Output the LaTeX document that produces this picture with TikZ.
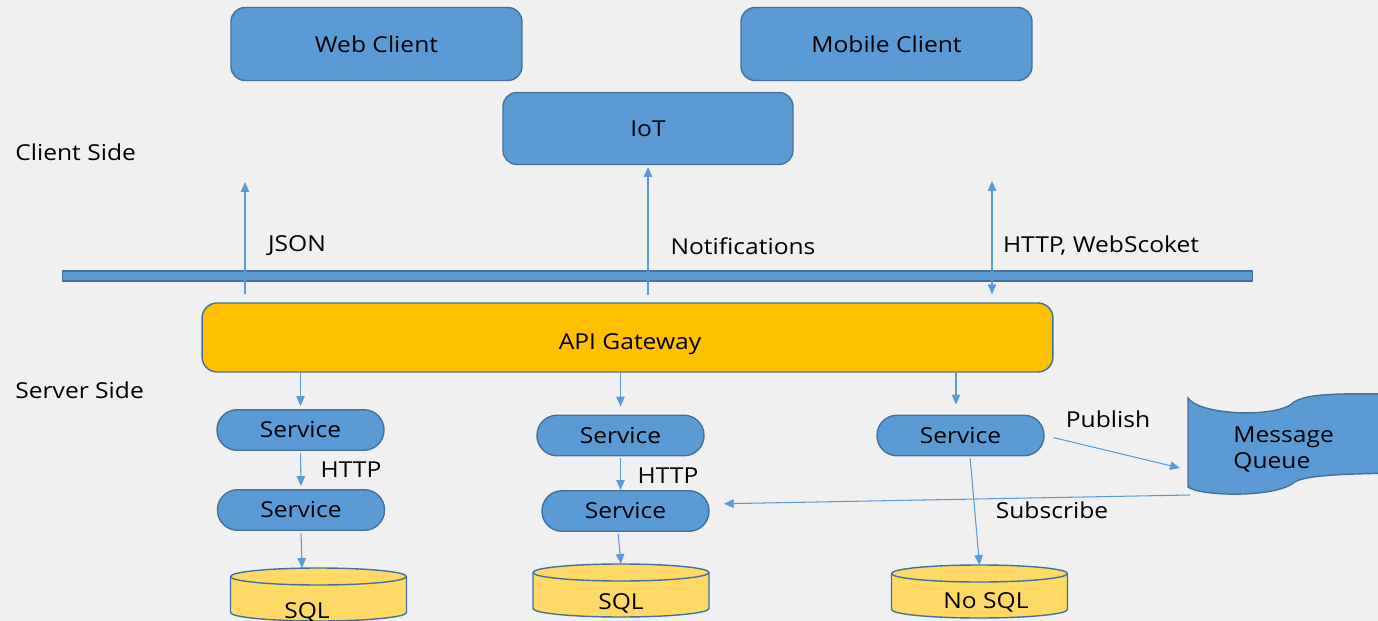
\documentclass[tikz,border=0pt]{standalone}
\usepackage{fontspec}
\setmainfont{Open Sans}[FakeStretch=1.12]
\usepackage{tikz}
\usetikzlibrary{positioning,calc,arrows.meta}

\definecolor{bgGray}{HTML}{F0F0F0}
\definecolor{boxBlue}{HTML}{5B9BD5}
\definecolor{edgeBlue}{HTML}{41719C}
\definecolor{gwYellow}{HTML}{FFC000}
\definecolor{dbYellow}{HTML}{FFD966}

\tikzset{
  txt/.style={font=\fontsize{12.5}{14.8}\selectfont, inner sep=0pt},
  client/.style={txt, draw=edgeBlue, fill=boxBlue, line width=0.8pt,
    rounded corners=0.28cm, minimum width=5.82cm, minimum height=1.46cm},
  gateway/.style={txt, draw=edgeBlue, fill=gwYellow, line width=0.8pt,
    rounded corners=0.3cm, minimum width=17.02cm, minimum height=1.38cm},
  service/.style={txt, draw=edgeBlue, fill=boxBlue, line width=0.8pt,
    rounded corners=0.4cm, minimum width=3.34cm, minimum height=0.81cm},
  flow/.style={draw=boxBlue, line width=0.6pt, -{Triangle[length=0.2cm,width=0.17cm]}},
  flowboth/.style={draw=boxBlue, line width=0.6pt,
    {Triangle[length=0.2cm,width=0.17cm]}-{Triangle[length=0.2cm,width=0.17cm]}}
}

% name, x, y of top ellipse, label x, label y, label
\newcommand{\dbcyl}[6]{
  \path[fill=dbYellow, draw=edgeBlue, line width=0.8pt]
    (#2-88,#3) -- (#2-88,#3+36)
    arc[start angle=180, end angle=360, x radius=1.76cm, y radius=0.17cm]
    -- (#2+88,#3)
    arc[start angle=0, end angle=180, x radius=1.76cm, y radius=0.17cm] -- cycle;
  \draw[edgeBlue, line width=0.8pt] (#2-88,#3)
    arc[start angle=180, end angle=360, x radius=1.76cm, y radius=0.17cm];
  \coordinate (#1top) at (#2,#3-8.5);
  \node[txt] (#1) at (#4,#5) {#6};
}

\begin{document}
\begin{tikzpicture}[x=0.02cm, y=-0.02cm]
\fill[bgGray] (0,0) rectangle (1378,621);
\useasboundingbox (0,0) rectangle (1378,621);

\node[client] (web) at (376.5,44) {Web Client};
\node[client] (mobile) at (886.5,44) {Mobile Client};
\node[client, minimum width=5.8cm, minimum height=1.44cm] (iot) at (648,128.5) {IoT};
\node[txt, anchor=west] (clientside) at (15,152) {Client Side};

\node[draw=edgeBlue, fill=boxBlue, line width=0.6pt, minimum width=23.82cm,
  minimum height=0.2cm, inner sep=0pt] (bar) at (657.5,276) {};

\node[gateway, label={[txt, xshift=0.05cm, yshift=-0.14cm]center:API Gateway}]
  (gw) at (627.5,337.5) {};
\node[txt, anchor=west] (serverside) at (15,390) {Server Side};

\node[service] (sA1) at (300.5,430) {Service};
\node[service] (sA2) at (301,510) {Service};
\node[service] (sB1) at (620.5,435.5) {Service};
\node[service] (sB2) at (625.5,511) {Service};
\node[service] (sC) at (960.5,435.5) {Service};

\dbcyl{dbA}{318.5}{576.5}{307}{612}{SQL}
\dbcyl{dbB}{621}{572.5}{621}{603}{SQL}
\dbcyl{dbC}{979.5}{573.5}{986}{602}{No SQL}

% message queue
\path[fill=boxBlue, draw=edgeBlue, line width=0.8pt]
  (1188,398) .. controls (1200,416) and (1280,418) .. (1294,402)
  .. controls (1310,392) and (1350,394) .. (1400,394) -- (1400,473)
  .. controls (1330,474) and (1300,476) .. (1292,484)
  .. controls (1270,498) and (1200,496) .. (1188,487) -- cycle;
\node[txt, align=left, anchor=west] (mq) at (1233,450) {Message\\Queue};

\coordinate (jsonEnd) at (245,182);
\coordinate (noteEnd) at (648,167);
\coordinate (httpEnd) at (992,181);
\draw[flow, shorten <=0.16cm] (gw.north -| jsonEnd) -- (jsonEnd);
\draw[flow, shorten <=0.14cm] (gw.north -| noteEnd) -- (noteEnd);
\draw[flowboth, shorten <=0.16cm] (gw.north -| httpEnd) -- (httpEnd);
\node[txt] (json) at (297,246) {JSON};
\node[txt] (notif) at (743,246) {Notifications};
\node[txt] (httpws) at (1101,246) {HTTP, WebScoket};

\coordinate (cTop) at ([xshift=-0.09cm]sC.north);
\draw[flow, shorten >=0.06cm] (gw.south -| sA1.north) -- (sA1.north);
\draw[flow, shorten >=0.16cm] (gw.south -| sB1.north) -- (sB1.north);
\draw[flow, shorten >=0.2cm] (gw.south -| cTop) -- (cTop);

\draw[flow, shorten <=0.04cm, shorten >=0.06cm] (sA1.south) -- (sA2.north);
\draw[flow, shorten <=0.04cm] (sB1.south) -- (sB1.south |- sB2.north);
\node[txt] (httpA) at (351,470) {HTTP};
\node[txt] (httpB) at (668,476) {HTTP};

\draw[flow, shorten <=0.04cm] (sA2.south) -- ([xshift=-0.33cm]dbAtop);
\draw[flow, shorten <=0.04cm] ([xshift=-0.15cm]sB2.south) -- (dbBtop);
\draw[flow, shorten <=0.04cm] ([xshift=0.19cm]sC.south) -- (dbCtop);

\coordinate (mqPub) at (1180,468);
\coordinate (mqSub) at (1190,495);
\draw[flow, shorten <=0.18cm] (sC.east) -- (mqPub);
\draw[flow, shorten >=0.28cm] (mqSub) -- ([yshift=0.14cm]sB2.east);
\node[txt] (publish) at (1108,419) {Publish};
\node[txt] (subscribe) at (1052,510) {Subscribe};
\end{tikzpicture}
\end{document}
